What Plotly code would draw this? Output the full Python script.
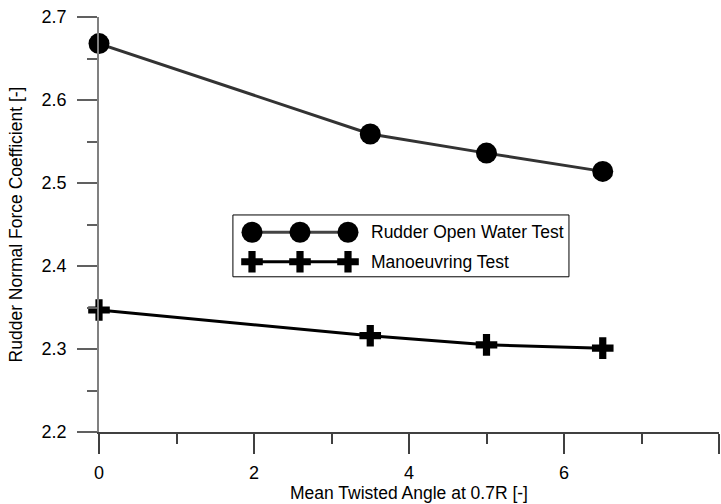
import plotly.graph_objects as go

# ---- data ----
twist_angle = [0, 3.5, 5, 6.5]
rudder_open_water = [2.668, 2.559, 2.536, 2.514]
manoeuvring = [2.347, 2.316, 2.305, 2.301]
series_names = ["Rudder Open Water Test", "Manoeuvring Test"]
x_title = "Mean Twisted Angle at 0.7R [-]"
y_title = "Rudder Normal Force Coefficient [-]"

FONT = "Liberation Sans, Arial, sans-serif"

fig = go.Figure()

fig.add_trace(go.Scatter(
    x=twist_angle, y=rudder_open_water, mode="lines+markers",
    line=dict(color="#333333", width=3),
    marker=dict(symbol="circle", size=21, color="black"),
    cliponaxis=False, showlegend=False, name=series_names[0]))
fig.add_trace(go.Scatter(
    x=twist_angle, y=manoeuvring, mode="lines+markers",
    line=dict(color="black", width=3),
    marker=dict(symbol="cross", size=18, color="black", line=dict(width=0)),
    cliponaxis=False, showlegend=False, name=series_names[1]))

# ---- custom legend drawn on an overlay axis (pixel-like units) ----
leg_x = [153, 201, 249]
row_y = [199.5, 170]
fig.add_trace(go.Scatter(
    x=leg_x, y=[row_y[0]] * 3, xaxis="x2", yaxis="y2", mode="lines+markers",
    line=dict(color="#444444", width=3),
    marker=dict(symbol="circle", size=21, color="black"),
    cliponaxis=False, showlegend=False, hoverinfo="skip"))
fig.add_trace(go.Scatter(
    x=leg_x, y=[row_y[1]] * 3, xaxis="x2", yaxis="y2", mode="lines+markers",
    line=dict(color="black", width=3),
    marker=dict(symbol="cross", size=18, color="black", line=dict(width=0)),
    cliponaxis=False, showlegend=False, hoverinfo="skip"))

fig.add_shape(type="rect", xref="paper", yref="paper",
              x0=0.216, x1=0.758, y0=0.374, y1=0.523,
              line=dict(color="black", width=1), fillcolor="rgba(0,0,0,0)",
              layer="below")
for name, yy in zip(series_names, row_y):
    fig.add_annotation(x=270, y=yy, xref="x2", yref="y2", text=name,
                       showarrow=False, xanchor="left", yanchor="middle",
                       font=dict(family=FONT, size=17.5, color="black"))

fig.update_layout(
    width=721, height=504,
    margin=dict(l=99, r=2, t=17, b=72),
    plot_bgcolor="white", paper_bgcolor="white",
    font=dict(family=FONT, size=18, color="black"),
    xaxis=dict(range=[0, 8], dtick=2, tick0=0, showgrid=False, zeroline=False,
               showline=True, linecolor="#404040", linewidth=1.5,
               ticks="outside", ticklen=20, tickwidth=1.5, tickcolor="#404040",
               minor=dict(dtick=1, ticks="outside", ticklen=10, tickwidth=1.5,
                          tickcolor="#404040", showgrid=False),
               tickfont=dict(size=18), ticklabelstandoff=4,
               title=dict(text=x_title, font=dict(size=17.5), standoff=2)),
    yaxis=dict(range=[2.2, 2.7], dtick=0.1, tick0=2.2, showgrid=False, zeroline=False,
               showline=True, linecolor="#808080", linewidth=1.5,
               ticks="outside", ticklen=20, tickwidth=1.5, tickcolor="#606060",
               minor=dict(dtick=0.05, ticks="outside", ticklen=10, tickwidth=1.5,
                          tickcolor="#606060", showgrid=False),
               tickformat=".1f", tickfont=dict(size=18), ticklabelstandoff=7,
               title=dict(text=y_title, font=dict(size=17.5), standoff=14)),
    xaxis2=dict(range=[0, 620], overlaying="x", visible=False, fixedrange=True),
    yaxis2=dict(range=[0, 414.4], overlaying="y", visible=False, fixedrange=True),
)

fig.write_html("out.html")
